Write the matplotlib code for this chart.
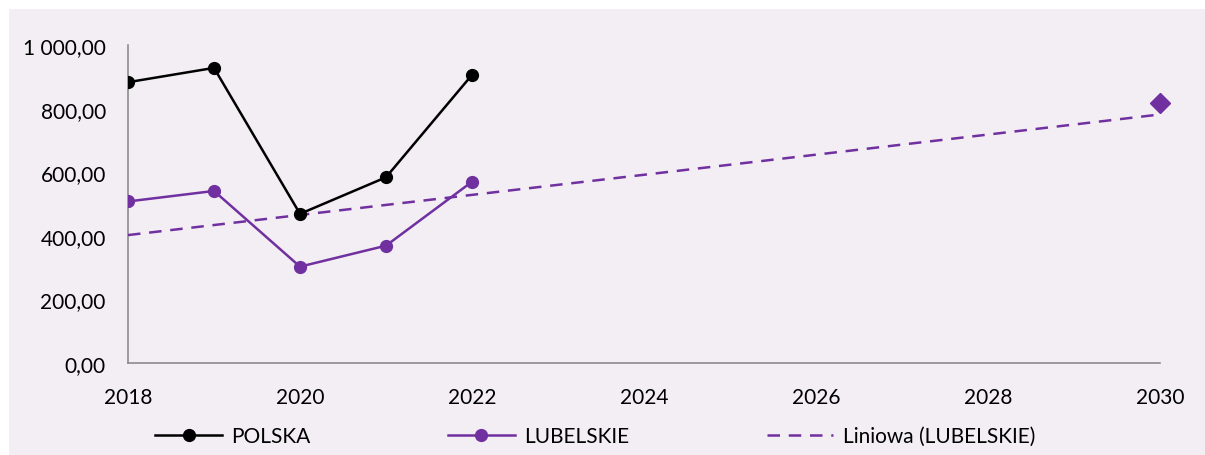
import matplotlib.pyplot as plt
import matplotlib.patches as mpatches
import numpy as np

plt.rcParams['font.family'] = ['Lato', 'DejaVu Sans']

lata = [2018, 2019, 2020, 2021, 2022]
polska = [883, 928, 469, 584, 906]
lubelskie = [508, 541, 303, 369, 570]
rok_cel = [2030]
lubelskie_cel = [818]

tlo = '#F2EEF4'
fiolet = '#7030A0'

# trend liniowy (Excel) liczony z danych lubelskie + wartosc docelowa
xs = np.array(lata + rok_cel, dtype=float)
ys = np.array(lubelskie + lubelskie_cel, dtype=float)
a, b = np.polyfit(xs, ys, 1)
trend_x = np.array([2018, 2030])
trend_y = a * trend_x + b

fig = plt.figure(figsize=(12.05, 4.56), dpi=100)
fig.patch.set_facecolor('white')
fig.patches.append(mpatches.Rectangle((9 / 1205, 0), 1, 1 - 10 / 456,
                                      transform=fig.transFigure,
                                      facecolor=tlo, edgecolor='none', zorder=0))
ax = fig.add_axes([128 / 1205, 1 - 364 / 456, (1160 - 128) / 1205, (364 - 46) / 456])
ax.set_facecolor('none')
ax.set_zorder(2)

ax.plot(lata, polska, color='black', lw=1.8, marker='o', ms=8.5, label='POLSKA', zorder=4)
ax.plot(lata, lubelskie, color=fiolet, lw=1.8, marker='o', ms=8.5, label='LUBELSKIE', zorder=4)
ax.plot(trend_x, trend_y, color=fiolet, lw=1.8, ls=(0, (5, 3.5)), label='Liniowa (LUBELSKIE)', zorder=3)
ax.plot(rok_cel, lubelskie_cel, color=fiolet, ls='none', marker='D', ms=10, zorder=5, clip_on=False)

ax.set_xlim(2018, 2030)
ax.set_ylim(0, 1000)
ax.set_xticks(range(2018, 2031, 2))
ax.set_yticks(range(0, 1001, 200))
ax.set_yticklabels(['0,00', '200,00', '400,00', '600,00', '800,00', '1 000,00'])
ax.tick_params(length=0, labelsize=15, colors='black')
ax.tick_params(axis='y', pad=16)
ax.tick_params(axis='x', pad=17)

for s in ['top', 'right']:
    ax.spines[s].set_visible(False)
for s in ['left', 'bottom']:
    ax.spines[s].set_color('#8C8C8C')
    ax.spines[s].set_linewidth(1.2)

leg = fig.legend(loc='center', bbox_to_anchor=(0.494, 1 - 437 / 456), ncol=3, frameon=False,
                 fontsize=15, handlelength=3.2, columnspacing=6.6, handletextpad=0.45)
leg.set_zorder(3)

fig.savefig('out.png', dpi=100, facecolor=fig.get_facecolor())
